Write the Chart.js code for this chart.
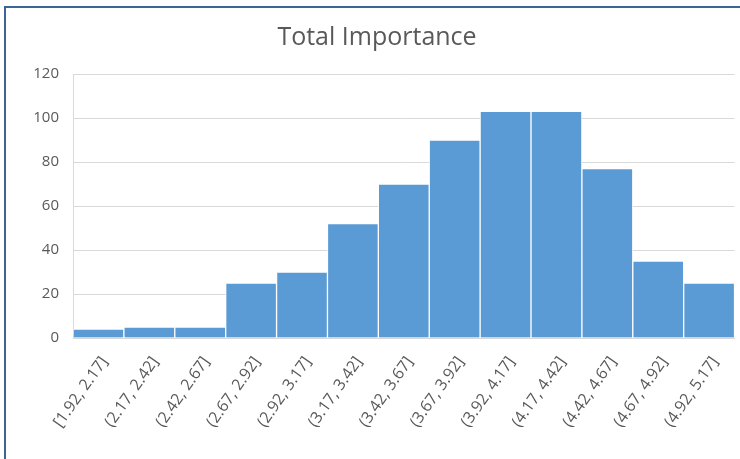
<!DOCTYPE html>
<html>
<head>
<meta charset="utf-8">
<script src="https://cdn.jsdelivr.net/npm/chart.js@4/dist/chart.umd.min.js"></script>
<style>
  html, body { margin: 0; padding: 0; background: #ffffff; }
  #wrap { position: relative; width: 740px; height: 459px; overflow: hidden; }
  #frame { position: absolute; left: 4px; top: 6px; width: 760px; height: 480px;
           border: 2px solid #3a6596; box-sizing: border-box; pointer-events: none; }
  canvas { position: absolute; left: 0; top: 0; }
</style>
</head>
<body>
<div id="wrap">
  <canvas id="chart" width="740" height="459"></canvas>
  <div id="frame"></div>
</div>
<script>
// Histogram bins and counts
const binLabels = ["[1.92, 2.17]", "(2.17, 2.42]", "(2.42, 2.67]", "(2.67, 2.92]", "(2.92, 3.17]",
  "(3.17, 3.42]", "(3.42, 3.67]", "(3.67, 3.92]", "(3.92, 4.17]", "(4.17, 4.42]",
  "(4.42, 4.67]", "(4.67, 4.92]", "(4.92, 5.17]"];
const binCounts = [4, 5, 5, 25, 30, 52, 70, 90, 103, 103, 77, 35, 25];
const titleText = "Total Importance";
const yMin = 0, yMax = 120, yStep = 20;

const textColor = "#595959";
const gridColor = "#d9d9d9";
const fontFamily = "'Open Sans', 'Liberation Sans', sans-serif";

new Chart(document.getElementById("chart"), {
  type: "bar",
  data: {
    labels: binLabels,
    datasets: [{
      data: binCounts,
      backgroundColor: "#5b9bd5",
      borderColor: "rgba(255,255,255,0.85)",
      borderWidth: 1,
      barPercentage: 1,
      categoryPercentage: 1
    }]
  },
  options: {
    responsive: false,
    animation: false,
    layout: { padding: { left: 18, right: 4, top: 0, bottom: 0 } },
    plugins: {
      legend: { display: false },
      tooltip: { enabled: false },
      title: {
        display: true,
        text: titleText,
        color: textColor,
        font: { family: fontFamily, size: 25, weight: "normal" },
        padding: { top: 23, bottom: 21 }
      }
    },
    scales: {
      x: {
        grid: { display: false, drawTicks: false },
        border: { display: true, color: gridColor, width: 1 },
        ticks: {
          color: textColor,
          font: { family: fontFamily, size: 16 },
          minRotation: 55,
          maxRotation: 55,
          autoSkip: false,
          padding: 15,
          labelOffset: 6
        },
        afterFit: (scale) => { scale.height = 121; }
      },
      y: {
        min: yMin,
        max: yMax,
        grid: { color: gridColor, lineWidth: 1, drawTicks: false },
        border: { display: true, color: gridColor, width: 1 },
        ticks: {
          stepSize: yStep,
          color: textColor,
          font: { family: fontFamily, size: 15 },
          padding: 14
        },
        afterFit: (scale) => { scale.width = 55; }
      }
    }
  }
});
</script>
</body>
</html>
